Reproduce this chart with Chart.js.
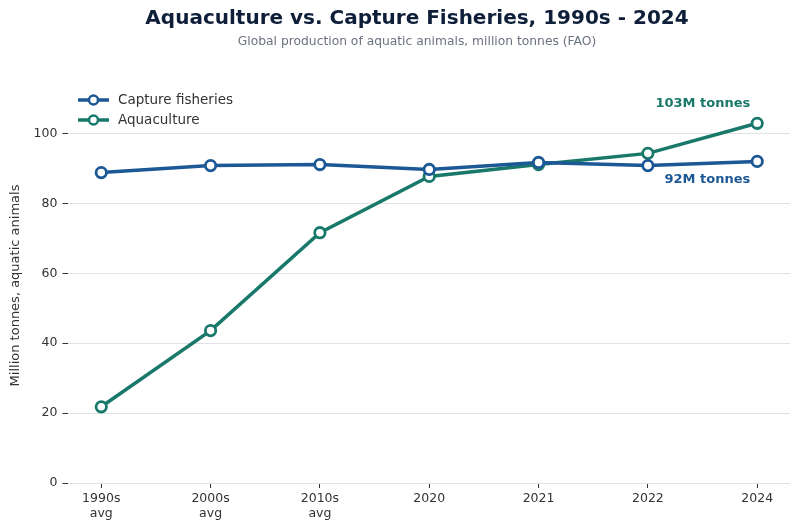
<!DOCTYPE html>
<html>
<head>
<meta charset="utf-8">
<script src="https://cdn.jsdelivr.net/npm/chart.js@4/dist/chart.umd.min.js"></script>
<style>
  html, body { margin: 0; padding: 0; background: #fff; }
  #wrap { width: 800px; height: 529px; }
</style>
</head>
<body>
<div id="wrap"><canvas id="fishChart"></canvas></div>
<script>
// data
const periods = [["1990s", "avg"], ["2000s", "avg"], ["2010s", "avg"], "2020", "2021", "2022", "2024"];
const capture = [88.8, 90.8, 91.1, 89.7, 91.7, 90.8, 92.0];
const aquaculture = [21.8, 43.6, 71.6, 87.7, 91.1, 94.3, 102.9];
const yTicks = [0, 20, 40, 60, 80, 100];

const BLUE = "#1c5796";
const TEAL = "#18796b";
const FONT = "'DejaVu Sans', sans-serif";

// titles, legend and end labels drawn by hand
const extras = {
  id: "extras",
  afterDatasetsDraw(chart) {
    const ctx = chart.ctx;
    const x = chart.scales.x, y = chart.scales.y;
    const last = periods.length - 1;
    ctx.save();
    ctx.textAlign = "center";
    ctx.textBaseline = "middle";
    ctx.font = "bold 20px " + FONT;
    ctx.fillStyle = "#0f1f3a";
    ctx.fillText("Aquaculture vs. Capture Fisheries, 1990s - 2024", 417, 19);
    ctx.font = "12.3px " + FONT;
    ctx.fillStyle = "#6b7280";
    ctx.fillText("Global production of aquatic animals, million tonnes (FAO)", 417, 42);

    ctx.font = "bold 13px " + FONT;
    ctx.textAlign = "right";
    ctx.fillStyle = TEAL;
    ctx.fillText("103M tonnes", x.getPixelForValue(last) - 7, y.getPixelForValue(aquaculture[last]) - 20);
    ctx.fillStyle = BLUE;
    ctx.fillText("92M tonnes", x.getPixelForValue(last) - 7, y.getPixelForValue(capture[last]) + 18.5);

    // legend
    const items = [["Capture fisheries", BLUE], ["Aquaculture", TEAL]];
    items.forEach(([label, col], i) => {
      const ly = 100 + i * 20;
      ctx.strokeStyle = col;
      ctx.lineWidth = 3.5;
      ctx.beginPath();
      ctx.moveTo(78, ly);
      ctx.lineTo(109, ly);
      ctx.stroke();
      ctx.beginPath();
      ctx.arc(93.5, ly, 4.5, 0, Math.PI * 2);
      ctx.fillStyle = "#fff";
      ctx.fill();
      ctx.lineWidth = 2.5;
      ctx.stroke();
      ctx.font = "13.5px " + FONT;
      ctx.textAlign = "left";
      ctx.fillStyle = "#333333";
      ctx.fillText(label, 118, ly);
    });
    ctx.restore();
  }
};

new Chart(document.getElementById("fishChart"), {
  type: "line",
  data: {
    datasets: [
      {
        label: "Capture fisheries",
        data: capture.map((v, i) => ({ x: i, y: v })),
        borderColor: BLUE,
        borderWidth: 3.5,
        pointBackgroundColor: "#fff",
        pointBorderColor: BLUE,
        pointBorderWidth: 2.8,
        pointRadius: 5.2,
        tension: 0
      },
      {
        label: "Aquaculture",
        data: aquaculture.map((v, i) => ({ x: i, y: v })),
        borderColor: TEAL,
        borderWidth: 3.5,
        pointBackgroundColor: "#fff",
        pointBorderColor: TEAL,
        pointBorderWidth: 2.8,
        pointRadius: 5.2,
        tension: 0
      }
    ]
  },
  options: {
    responsive: true,
    maintainAspectRatio: false,
    animation: false,
    layout: { padding: { top: 88, left: 8, right: 10, bottom: 5 } },
    plugins: {
      legend: { display: false },
      tooltip: { enabled: false }
    },
    scales: {
      x: {
        type: "linear",
        min: -0.3,
        max: periods.length - 0.7,
        afterBuildTicks: s => { s.ticks = periods.map((p, i) => ({ value: i })); },
        ticks: {
          callback: v => periods[v],
          color: "#333333",
          font: { family: FONT, size: 12.5, lineHeight: 1.2 },
          padding: 3,
          maxRotation: 0
        },
        grid: { display: true, drawOnChartArea: false, tickLength: 5, tickColor: "#333333" },
        border: { display: false }
      },
      y: {
        min: 0,
        max: 113,
        afterBuildTicks: s => { s.ticks = yTicks.map(v => ({ value: v })); },
        ticks: {
          color: "#333333",
          font: { family: FONT, size: 12.5 },
          padding: 5
        },
        grid: { color: "#dfe3e8", lineWidth: 1, tickLength: 6, tickColor: "#333333" },
        border: { display: false },
        title: {
          display: true,
          text: "Million tonnes, aquatic animals",
          color: "#333333",
          font: { family: FONT, size: 13 },
          padding: { top: 0, bottom: 5 }
        }
      }
    }
  },
  plugins: [extras]
});
</script>
</body>
</html>
